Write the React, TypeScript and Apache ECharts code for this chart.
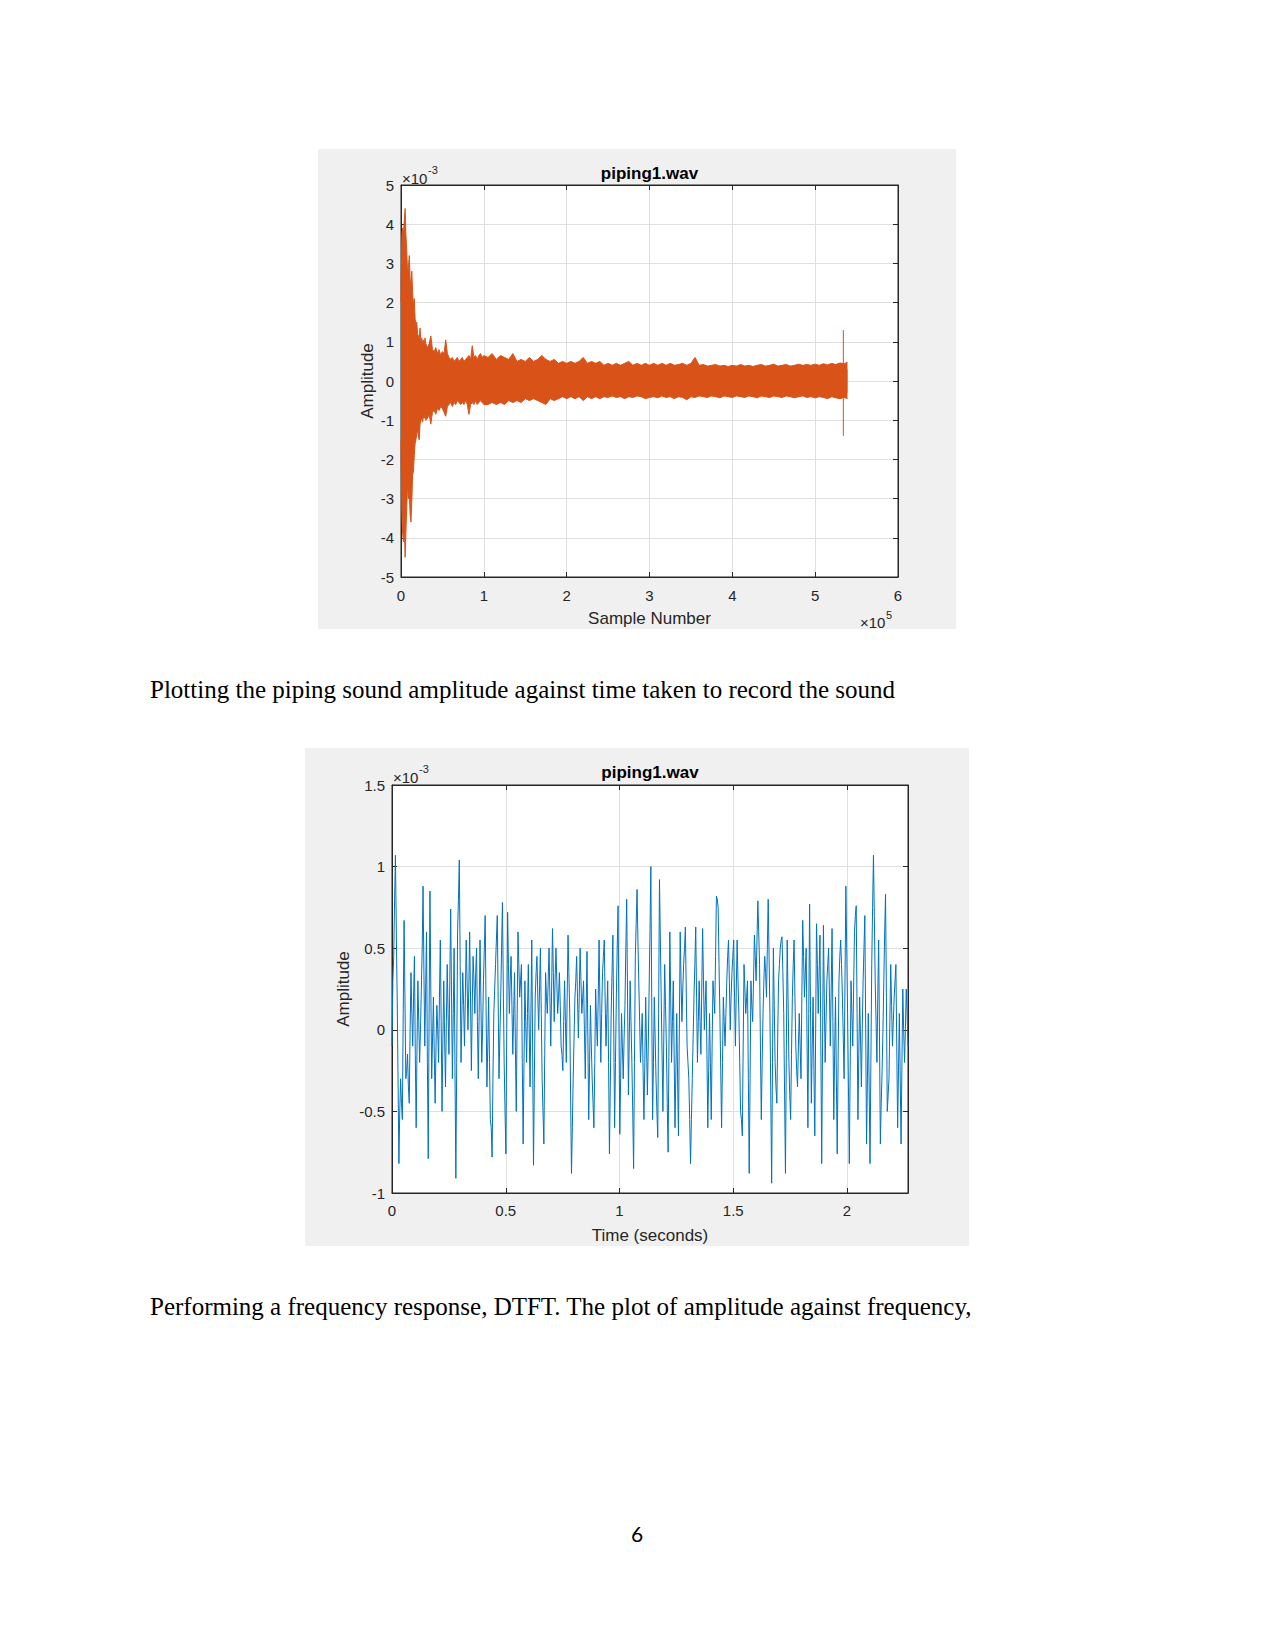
import { useEffect, useRef } from "react";
import * as echarts from "echarts";

// ---------- Figure 1: sample-number plot (x in units of 1e5, y in units of 1e-3) ----------
const ENV_X = [
  0, 0.01, 0.02, 0.03, 0.04, 0.05, 0.06, 0.07, 0.08, 0.09,
  0.1, 0.11, 0.12, 0.13, 0.14, 0.15, 0.16, 0.17, 0.18, 0.19,
  0.2, 0.21, 0.22, 0.23, 0.24, 0.25, 0.26, 0.27, 0.28, 0.29,
  0.3,
  0.32, 0.34, 0.36, 0.38, 0.4, 0.42, 0.44, 0.46, 0.48, 0.5,
  0.52, 0.54, 0.56, 0.58, 0.6, 0.62, 0.64, 0.66, 0.68, 0.7,
  0.72, 0.74, 0.76, 0.78, 0.8, 0.82, 0.84, 0.86, 0.88, 0.9,
  0.92, 0.94, 0.96, 0.98, 1.0,
  1.05, 1.1, 1.15, 1.2, 1.25, 1.3, 1.35, 1.4, 1.45, 1.5,
  1.55, 1.6, 1.65, 1.7, 1.75, 1.8, 1.85, 1.9, 1.95, 2.0,
  2.05, 2.1, 2.15, 2.2, 2.25, 2.3, 2.35, 2.4, 2.45, 2.5,
  2.55, 2.6, 2.65, 2.7, 2.75, 2.8, 2.85, 2.9, 2.95, 3.0,
  3.05, 3.1, 3.15, 3.2, 3.25, 3.3, 3.35, 3.4, 3.45, 3.5,
  3.55, 3.6, 3.65, 3.7, 3.75, 3.8, 3.85, 3.9, 3.95, 4.0,
  4.05, 4.1, 4.15, 4.2, 4.25, 4.3, 4.35, 4.4, 4.45, 4.5,
  4.55, 4.6, 4.65, 4.7, 4.75, 4.8, 4.85, 4.9, 4.95, 5.0,
  5.05, 5.1, 5.15, 5.2, 5.25, 5.3, 5.35, 5.39,
];

const ENV_UPPER = [
  2.0, 3.7, 3.9, 3.8, 4.1, 4.4, 3.7, 3.3, 2.7, 2.9,
  3.2, 2.6, 2.4, 2.8, 2.3, 1.9, 2.1, 1.6, 1.4, 1.5,
  1.2, 1.15, 1.05, 1.35, 1.0, 1.1, 0.95, 1.05, 0.9, 1.1,
  0.95,
  0.85, 0.95, 1.15, 0.8, 0.75, 0.85, 0.7, 0.8, 0.65, 0.75,
  0.7, 1.05, 0.7, 0.6, 0.55, 0.6, 0.5, 0.55, 0.6, 0.5,
  0.55, 0.6, 0.5, 0.55, 0.6, 0.65, 0.55, 0.9, 0.6, 0.65,
  0.55, 0.65, 0.7, 0.6, 0.65,
  0.6, 0.7, 0.55, 0.65, 0.6, 0.55, 0.7, 0.5, 0.55, 0.5,
  0.6, 0.5, 0.55, 0.65, 0.55, 0.5, 0.55, 0.45, 0.5, 0.45,
  0.5, 0.45, 0.5, 0.6, 0.45, 0.5, 0.45, 0.5, 0.4, 0.45,
  0.4, 0.45, 0.4, 0.45, 0.5, 0.4, 0.45, 0.4, 0.45, 0.4,
  0.45, 0.4, 0.45, 0.4, 0.45, 0.4, 0.42, 0.45, 0.4, 0.45,
  0.6, 0.4, 0.42, 0.38, 0.4, 0.42, 0.38, 0.4, 0.37, 0.4,
  0.38, 0.42, 0.38, 0.4, 0.37, 0.4, 0.42, 0.38, 0.4, 0.43,
  0.38, 0.4, 0.42, 0.38, 0.4, 0.43, 0.4, 0.42, 0.4, 0.43,
  0.4, 0.44, 0.41, 0.45, 0.42, 0.46, 0.44, 0.48,
];

const ENV_LOWER = [
  -1.5, -3.3, -3.9, -4.1, -3.7, -4.5, -3.8, -3.2, -2.6, -3.0,
  -2.8, -3.4, -3.6, -3.1, -2.4, -2.3, -1.9, -1.6, -1.5, -1.35,
  -1.25, -1.4, -1.5, -1.1, -1.0, -0.95, -1.05, -0.9, -0.95, -0.85,
  -1.0,
  -0.95, -0.85, -1.1, -0.8, -0.75, -0.85, -0.7, -0.75, -0.65, -0.7,
  -0.8, -0.9, -0.65, -0.6, -0.55, -0.65, -0.55, -0.6, -0.5, -0.55,
  -0.6, -0.55, -0.6, -0.5, -0.6, -0.85, -0.6, -0.55, -0.6, -0.5,
  -0.6, -0.55, -0.5, -0.55, -0.6,
  -0.6, -0.55, -0.6, -0.55, -0.6, -0.5, -0.55, -0.5, -0.55, -0.45,
  -0.5, -0.45, -0.5, -0.55, -0.6, -0.45, -0.5, -0.45, -0.4, -0.45,
  -0.4, -0.45, -0.4, -0.5, -0.4, -0.45, -0.4, -0.45, -0.4, -0.42,
  -0.38, -0.42, -0.4, -0.45, -0.4, -0.42, -0.38, -0.4, -0.45, -0.42,
  -0.4, -0.43, -0.38, -0.42, -0.4, -0.45, -0.4, -0.42, -0.48, -0.4,
  -0.42, -0.38, -0.4, -0.42, -0.38, -0.4, -0.43, -0.38, -0.4, -0.42,
  -0.38, -0.4, -0.42, -0.38, -0.4, -0.43, -0.38, -0.4, -0.42, -0.38,
  -0.4, -0.42, -0.38, -0.4, -0.43, -0.4, -0.38, -0.42, -0.4, -0.43,
  -0.4, -0.42, -0.45, -0.4, -0.43, -0.45, -0.42, -0.45,
];

const SPIKE_X = 5.34;
const SPIKE_TOP = 1.3;
const SPIKE_BOTTOM = -1.4;

// ---------- Figure 2: time plot (seconds, y in units of 1e-3) ----------
const SAMPLE_DT = 0.007585;
// main samples at t = i * SAMPLE_DT
const SIGNAL = [
  -0.1, 0.45, 1.07, 0.2, -0.82, -0.3, -0.55, 0.67, -0.3, -0.15,
  -0.45, 0.35, -0.1, 0.45, -0.6, 0.3, -0.2, 0.25, 0.88, -0.1,
  0.6, -0.79, 0.85, -0.3, 0.2, -0.45, 0.15, -0.2, 0.55, -0.5,
  0.3, -0.35, 0.4, -0.15, 0.74, -0.3, 0.5, -0.91, 0.6, 1.04,
  -0.2, 0.35, -0.1, 0.55, 0.0, 0.6, -0.25, 0.45, 0.1, 0.5,
  -0.3, 0.55, -0.2, 0.3, 0.7, -0.35, 0.2, -0.55, -0.78, 0.1,
  0.4, 0.7, -0.3, 0.2, 0.78, -0.2, -0.76, 0.72, 0.1, 0.45,
  -0.15, 0.35, -0.5, 0.6, 0.2, 0.4, -0.7, 0.3, -0.2, 0.4,
  -0.35, 0.55, -0.83, 0.2, 0.45, 0.0, 0.5, -0.3, -0.7, 0.35,
  0.1, 0.5, -0.1, 0.62, 0.05, 0.5, 0.1, 0.35, -0.1, -0.25,
  0.3, -0.2, 0.58, 0.1, -0.88, -0.3, 0.2, 0.45, -0.05, 0.5,
  0.1, 0.3, -0.3, 0.48, -0.55, 0.15, -0.3, -0.6, 0.25, -0.1,
  0.55, -0.2, 0.35, 0.55, -0.1, 0.3, -0.76, 0.1, 0.58, -0.6,
  0.2, 0.76, -0.64, 0.1, -0.3, 0.15, 0.8, -0.4, 0.3, -0.2,
  -0.85, 0.45, 0.86, 0.3, -0.2, 0.1, -0.55, 0.2, -0.4, 0.25,
  1.0, -0.55, 0.2, -0.3, -0.66, 0.92, 0.2, -0.5, 0.4, -0.1,
  -0.75, 0.6, -0.2, 0.3, -0.6, 0.1, -0.65, 0.6, 0.05, 0.4,
  0.63, -0.1, -0.3, -0.82, -0.3, 0.2, 0.63, -0.2, 0.3, -0.15,
  0.62, 0.0, 0.3, -0.6, 0.1, -0.55, 0.3, 0.1, 0.82, 0.75,
  0.1, -0.6, 0.2, -0.1, 0.3, 0.55, 0.0, 0.35, 0.55, -0.1,
  0.55, 0.1, -0.5, -0.65, 0.4, 0.1, 0.3, -0.88, 0.3, 0.05,
  0.58, 0.3, 0.79, 0.4, -0.55, 0.1, 0.45, 0.2, 0.8, 0.1,
  -0.94, 0.5, -0.2, -0.45, 0.3, 0.5, 0.57, 0.1, -0.88, 0.55,
  -0.2, -0.55, 0.2, 0.55, -0.1, -0.35, 0.1, -0.3, 0.67, 0.2,
  0.5, -0.6, 0.77, -0.45, 0.2, -0.65, 0.65, 0.1, 0.58, -0.82,
  0.64, -0.2, 0.3, 0.5, -0.1, 0.62, -0.55, 0.2, -0.76, 0.3,
  0.55, 0.2, -0.3, 0.88, 0.1, -0.82, 0.3, -0.1, 0.6, 0.76,
  -0.55, 0.2, -0.35, 0.3, 0.7, -0.7, 0.1, -0.82, 0.4, 1.07,
  0.3, -0.2, 0.55, -0.7, -0.25, 0.3, 0.83, -0.5, -0.3, 0.4,
  -0.1, 0.2, 0.4, -0.6, 0.1, -0.7, 0.25, -0.2, 0.25, -0.1,
];
// in-between samples at t = (i + 0.5) * SAMPLE_DT
const SIGNAL_MID = [
  0.3, 0.8, 0.6, -0.3, -0.5, -0.45, 0.1, 0.2, -0.25, -0.35,
  0.0, 0.1, 0.2, -0.15, -0.1, 0.05, 0.0, 0.5, 0.35, 0.25,
  -0.2, 0.1, 0.25, -0.05, -0.15, -0.1, 0.0, 0.2, 0.05, -0.05,
  -0.05, 0.05, 0.1, 0.3, 0.2, 0.1, -0.25, -0.2, 0.8, 0.4,
  0.1, 0.15, 0.2, 0.3, 0.25, 0.2, 0.15, 0.3, 0.35, 0.05,
  0.1, 0.2, 0.0, 0.5, 0.15, -0.1, -0.2, -0.6, -0.3, 0.25,
  0.55, 0.2, -0.05, 0.5, 0.25, -0.5, 0.0, 0.4, 0.3, 0.15,
  0.1, -0.1, 0.05, 0.4, 0.3, -0.2, -0.2, 0.05, 0.1, 0.0,
  0.1, -0.15, -0.3, 0.35, 0.2, 0.25, 0.1, -0.5, -0.15, 0.2,
  0.3, 0.2, 0.25, 0.35, 0.3, 0.3, 0.2, 0.15, -0.15, 0.05,
  0.05, 0.2, 0.35, -0.4, -0.6, -0.05, 0.3, 0.2, 0.2, 0.3,
  0.2, 0.0, 0.1, -0.05, -0.2, -0.1, -0.45, -0.2, 0.05, 0.2,
  0.15, 0.1, 0.45, 0.2, 0.1, -0.2, -0.35, 0.35, 0.0, -0.2,
  0.5, 0.05, -0.3, -0.1, -0.05, 0.5, 0.2, -0.05, 0.05, -0.5,
  -0.2, 0.65, 0.55, 0.05, -0.05, -0.25, -0.2, -0.1, -0.1, 0.6,
  0.2, -0.2, -0.05, -0.5, 0.1, 0.55, -0.15, -0.05, 0.15, -0.45,
  -0.1, 0.2, 0.05, -0.15, -0.25, -0.3, 0.0, 0.3, 0.25, 0.5,
  0.25, -0.2, -0.55, -0.55, -0.05, 0.4, 0.2, 0.05, 0.05, 0.25,
  0.3, 0.15, -0.15, -0.25, -0.2, -0.1, 0.2, 0.45, 0.8, 0.4,
  -0.25, -0.2, 0.05, 0.1, 0.45, 0.3, 0.2, 0.45, 0.2, 0.25,
  0.3, -0.2, -0.55, -0.1, 0.25, 0.2, -0.3, -0.3, 0.15, 0.3,
  0.45, 0.55, 0.6, -0.1, -0.2, 0.3, 0.35, 0.5, 0.45, -0.4,
  -0.2, 0.15, -0.35, -0.05, 0.4, 0.55, 0.35, -0.4, -0.15, 0.2,
  -0.4, -0.15, 0.4, 0.2, -0.25, -0.1, -0.1, 0.2, 0.45, 0.35,
  -0.05, 0.1, 0.15, -0.1, -0.25, 0.0, 0.4, 0.35, -0.1, -0.1,
  0.2, 0.05, 0.4, 0.2, 0.25, 0.05, -0.15, -0.3, -0.2, 0.45,
  0.4, -0.05, 0.3, 0.5, -0.35, -0.25, 0.1, 0.25, 0.7, 0.1,
  -0.15, -0.05, 0.0, 0.5, 0.0, -0.3, -0.35, -0.2, 0.75, 0.7,
  0.05, 0.2, -0.05, -0.45, 0.0, 0.6, 0.2, -0.4, 0.05, 0.15,
  0.05, 0.3, -0.1, -0.25, -0.3, -0.2, 0.0, 0.0, 0.1,
];

const TITLE = "piping1.wav";
const X1_NAME = "Sample Number";
const X2_NAME = "Time (seconds)";
const Y_NAME = "Amplitude";
const PARA1 = "Plotting the piping sound amplitude against time taken to record the sound";
const PARA2 = "Performing a frequency response, DTFT. The plot of amplitude against frequency,";
const PAGE_NUMBER = "6";

const AX = "#262626";
const GRIDC = "#DFDFDF";
const SANS = "'Liberation Sans', Arial, Helvetica, sans-serif";
const ORANGE = "#D95319";
const BLUE = "#0072BD";

function axisPair(grid: number, min: number, max: number, interval: number, isX: boolean, labelMargin: number) {
  const main: any = {
    type: "value",
    gridIndex: grid,
    min,
    max,
    interval,
    position: isX ? "bottom" : "left",
    axisLine: { show: true, onZero: false, lineStyle: { color: AX, width: 1 } },
    axisTick: { show: true, inside: true, length: 5, lineStyle: { color: AX } },
    axisLabel: {
      show: true,
      color: AX,
      fontSize: 15,
      fontFamily: SANS,
      margin: labelMargin,
      showMaxLabel: isX && max % interval !== 0 ? false : true,
    },
    splitLine: { show: true, lineStyle: { color: GRIDC, width: 1 } },
  };
  const twin: any = {
    type: "value",
    gridIndex: grid,
    min,
    max,
    interval,
    position: isX ? "top" : "right",
    axisLine: { show: true, onZero: false, lineStyle: { color: AX, width: 1 } },
    axisTick: { show: true, inside: true, length: 5, lineStyle: { color: AX } },
    axisLabel: { show: false },
    splitLine: { show: false },
  };
  return [main, twin];
}

function text(x: number, y: number, t: string, size: number, opts: any = {}) {
  return {
    type: "text",
    x,
    y,
    rotation: opts.rotation || 0,
    z: 10,
    style: {
      text: t,
      fill: opts.fill || AX,
      fontSize: size,
      fontFamily: opts.fontFamily || SANS,
      fontWeight: opts.fontWeight || "normal",
      textAlign: opts.align || "left",
      textVerticalAlign: "middle",
      verticalAlign: "middle",
    },
  };
}

export default function App() {
  const ref = useRef<HTMLDivElement>(null);

  useEffect(() => {
    if (!ref.current) return;
    const chart = echarts.init(ref.current, undefined, { renderer: "svg" });

    const upper = ENV_X.map((x, i) => [x, ENV_UPPER[i]]);
    const lower = ENV_X.map((x, i) => [x, ENV_LOWER[i]]);
    const signal: number[][] = [];
    SIGNAL.forEach((v, i) => {
      signal.push([i * SAMPLE_DT, v]);
      if (i < SIGNAL_MID.length) signal.push([(i + 0.5) * SAMPLE_DT, SIGNAL_MID[i]]);
    });

    const [x1, x1t] = axisPair(0, 0, 6, 1, true, 11);
    const [y1, y1r] = axisPair(0, -5, 5, 1, false, 7);
    const [x2, x2t] = axisPair(1, 0, 2.268, 0.5, true, 10);
    const [y2, y2r] = axisPair(1, -1, 1.5, 0.5, false, 7);

    const option: any = {
      animation: false,
      backgroundColor: "#FFFFFF",
      grid: [
        { left: 401, top: 185, width: 497, height: 392, show: true, backgroundColor: "#FFFFFF", borderColor: AX, borderWidth: 1, containLabel: false },
        { left: 392, top: 785, width: 516, height: 408, show: true, backgroundColor: "#FFFFFF", borderColor: AX, borderWidth: 1, containLabel: false },
      ],
      xAxis: [x1, x1t, x2, x2t],
      yAxis: [y1, y1r, y2, y2r],
      series: [
        {
          type: "line",
          xAxisIndex: 0,
          yAxisIndex: 0,
          data: upper,
          symbol: "none",
          lineStyle: { color: ORANGE, width: 1 },
          areaStyle: { color: ORANGE, opacity: 1, origin: -0.3 },
          z: 3,
        },
        {
          type: "line",
          xAxisIndex: 0,
          yAxisIndex: 0,
          data: lower,
          symbol: "none",
          lineStyle: { color: ORANGE, width: 1 },
          areaStyle: { color: ORANGE, opacity: 1, origin: 0.3 },
          z: 3,
        },
        {
          type: "line",
          xAxisIndex: 0,
          yAxisIndex: 0,
          data: [
            [SPIKE_X, SPIKE_TOP],
            [SPIKE_X, SPIKE_BOTTOM],
          ],
          symbol: "none",
          lineStyle: { color: ORANGE, width: 1 },
          z: 4,
        },
        {
          type: "line",
          xAxisIndex: 2,
          yAxisIndex: 2,
          data: signal,
          symbol: "none",
          lineStyle: { color: BLUE, width: 1 },
          z: 3,
        },
      ],
      graphic: {
        elements: [
          { type: "rect", z: -10, shape: { x: 318, y: 149, width: 638, height: 480 }, style: { fill: "#F0F0F0" } },
          { type: "rect", z: -10, shape: { x: 305, y: 748, width: 664, height: 498 }, style: { fill: "#F0F0F0" } },
          // figure 1 texts
          text(649.5, 173, TITLE, 17, { fontWeight: "bold", align: "center", fill: "#000" }),
          text(649.5, 618, X1_NAME, 17, { align: "center" }),
          text(367, 381, Y_NAME, 17, { align: "center", rotation: Math.PI / 2 }),
          text(402, 178, "×10", 15),
          text(428, 170, "-3", 11),
          text(860, 622, "×10", 15),
          text(886, 615, "5", 11),
          // figure 2 texts
          text(650, 772, TITLE, 17, { fontWeight: "bold", align: "center", fill: "#000" }),
          text(650, 1235, X2_NAME, 17, { align: "center" }),
          text(343, 989, Y_NAME, 17, { align: "center", rotation: Math.PI / 2 }),
          text(393, 777, "×10", 15),
          text(419, 769, "-3", 11),
          // page text
          text(150, 689, PARA1, 25, { fontFamily: "'Liberation Serif', 'Times New Roman', serif", fill: "#000" }),
          text(150, 1306, PARA2, 25, { fontFamily: "'Liberation Serif', 'Times New Roman', serif", fill: "#000" }),
          text(637, 1533, PAGE_NUMBER, 21, { fontFamily: "Lato, 'Open Sans', sans-serif", fill: "#000", align: "center" }),
        ],
      },
    };

    chart.setOption(option);
    return () => chart.dispose();
  }, []);

  return (
    <div
      ref={ref}
      style={{ position: "absolute", left: 0, top: 0, width: 1275, height: 1650, background: "#FFFFFF" }}
    />
  );
}
